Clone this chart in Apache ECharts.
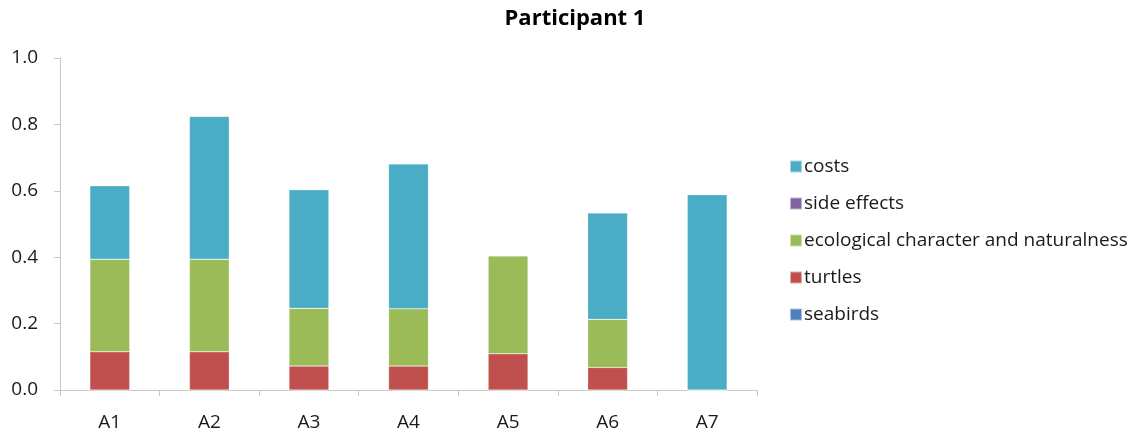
<!DOCTYPE html>
<html>
<head>
<meta charset="utf-8">
<style>
  html, body { margin: 0; padding: 0; background: #fff; }
  #chart { width: 1142px; height: 435px; }
</style>
<script src="https://cdn.jsdelivr.net/npm/echarts@6/dist/echarts.min.js"></script>
</head>
<body>
<div id="chart"></div>
<script>
// Alternatives on the category axis
const categories = ['A1', 'A2', 'A3', 'A4', 'A5', 'A6', 'A7'];

// Weighted scores per criterion (stacked, bottom to top)
const seabirds    = [0, 0, 0, 0, 0, 0, 0];
const turtles     = [0.115, 0.115, 0.072, 0.072, 0.109, 0.068, 0];
const ecological  = [0.279, 0.279, 0.174, 0.173, 0.295, 0.145, 0];
const sideEffects = [0, 0, 0, 0, 0, 0, 0];
const costs       = [0.221, 0.430, 0.357, 0.436, 0, 0.320, 0.588];

const yTicks = ['0.0', '0.2', '0.4', '0.6', '0.8', '1.0'];

const FONT = '"Open Sans", sans-serif';

const chart = echarts.init(document.getElementById('chart'), null, { renderer: 'canvas' });

function bar(name, data, color) {
  return {
    name: name,
    type: 'bar',
    stack: 'total',
    data: data,
    barWidth: '40%',
    itemStyle: { color: color, borderColor: 'rgba(255,255,255,0.5)', borderWidth: 0.5 },
    emphasis: { disabled: true }
  };
}

chart.setOption({
  animation: false,
  backgroundColor: '#ffffff',
  title: {
    text: 'Participant 1',
    left: 570,
    textAlign: 'center',
    top: 3,
    textStyle: { fontFamily: FONT, fontWeight: 'bold', fontSize: 22, color: '#000' }
  },
  legend: {
    orient: 'vertical',
    left: 784,
    top: 149,
    itemWidth: 12,
    itemHeight: 12,
    itemGap: 12,
    icon: 'rect',
    data: ['costs', 'side effects', 'ecological character and naturalness', 'turtles', 'seabirds'],
    textStyle: { fontFamily: FONT, fontSize: 19, color: '#1a1a1a', padding: [0, 0, 0, -3], lineHeight: 25 }
  },
  grid: { left: 60, right: 385, top: 58, bottom: 45, containLabel: false },
  xAxis: {
    type: 'category',
    data: categories,
    boundaryGap: true,
    axisLine: { lineStyle: { color: '#c8c8c8', width: 1 } },
    axisTick: { show: true, length: 6, lineStyle: { color: '#c8c8c8' }, alignWithLabel: false },
    axisLabel: { fontFamily: FONT, fontSize: 19, color: '#1a1a1a', margin: 23 }
  },
  yAxis: {
    type: 'value',
    min: 0,
    max: 1,
    interval: 0.2,
    splitLine: { show: false },
    axisLine: { show: true, lineStyle: { color: '#c8c8c8', width: 1 } },
    axisTick: { show: true, length: 6, lineStyle: { color: '#c8c8c8' } },
    axisLabel: {
      fontFamily: FONT, fontSize: 19, color: '#1a1a1a', margin: 22,
      formatter: function (v) { return yTicks[Math.round(v / 0.2)]; }
    }
  },
  series: [
    bar('seabirds', seabirds, '#4F81BD'),
    bar('turtles', turtles, '#C0504D'),
    bar('ecological character and naturalness', ecological, '#9BBB59'),
    bar('side effects', sideEffects, '#8064A2'),
    bar('costs', costs, '#4BACC6')
  ]
});
</script>
</body>
</html>
